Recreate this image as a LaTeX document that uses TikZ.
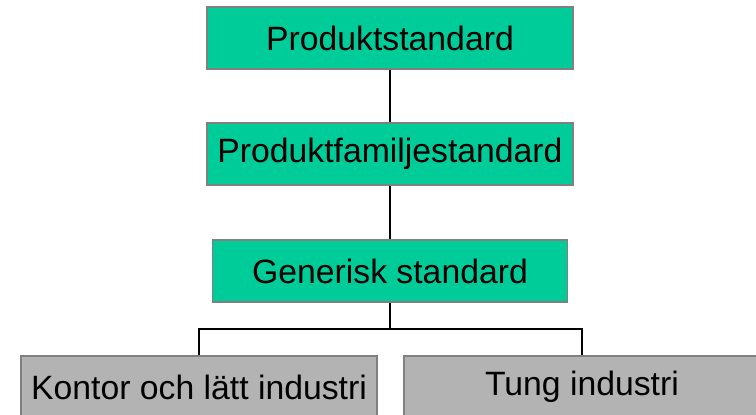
\documentclass[tikz,border=0pt]{standalone}
\usepackage{fontspec}
\setmainfont{Liberation Sans}
\usetikzlibrary{positioning}

\definecolor{stdgreen}{RGB}{0,204,153}
\definecolor{appgray}{RGB}{179,179,179}
\definecolor{edgegray}{RGB}{128,128,128}

\tikzset{
  std/.style={rectangle, draw=edgegray, line width=1.2pt, fill=stdgreen, minimum height=1.55cm, minimum width=9.15cm, inner sep=0pt, font=\fontsize{24}{28}\selectfont},
  app/.style={std, fill=appgray, minimum width=8.9cm},
  link/.style={draw=black, line width=1.3pt}
}

\begin{document}
\begin{tikzpicture}
  \useasboundingbox (0,0) rectangle (18.9,-10.375);
  % Nodes
  \node (s-0) [std] at (9.75, -0.95) {Produktstandard};
  \node (s-1) [std] at (9.75, -3.85) {Produktfamiljestandard};
  \node (s-2) [std, minimum width=8.875cm] at (9.75, -6.775) {Generisk standard};
  \node (e-0) [app] at (4.975, -9.675) {Kontor och lätt industri};
  \node (e-1) [app] at (14.55, -9.675) {Tung industri};
  \coordinate (bus) at (9.75, -8.225);
  % Lines
  \draw[link] (s-0) -- (s-1);
  \draw[link] (s-1) -- (s-2);
  \draw[link] (s-2) -- (bus);
  \draw[link] (e-0.north) |- (bus) -| (e-1.north);
\end{tikzpicture}
\end{document}
